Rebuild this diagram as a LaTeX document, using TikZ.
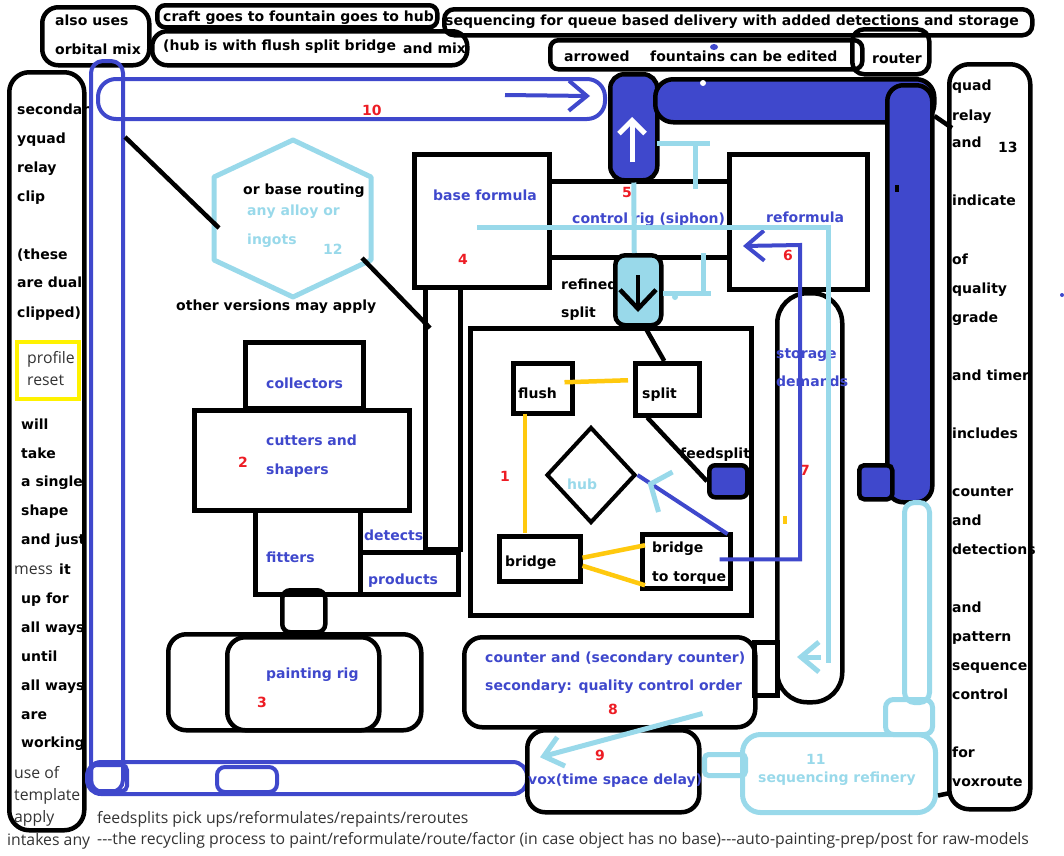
\documentclass[tikz,border=0pt]{standalone}
\usepackage{fontspec}
\usepackage{tikz}
\usetikzlibrary{arrows.meta,positioning,calc,shapes.geometric}
\newfontfamily\dvfont{DejaVu Sans}
\newfontfamily\osfont{Open Sans}
\definecolor{pblue}{RGB}{63,72,204}
\definecolor{plblue}{RGB}{153,217,234}
\definecolor{pred}{RGB}{237,28,36}
\definecolor{pgold}{RGB}{255,201,14}
\definecolor{pyellow}{RGB}{255,242,0}
\newcommand{\bfnt}{\dvfont\bfseries\fontsize{14}{16}\selectfont}
\newcommand{\rfnt}{\osfont\fontsize{15.8}{18}\selectfont}
\newcommand{\hy}{-\kern0pt}

\begin{document}
\begin{tikzpicture}[x=1pt,y=-1pt,
  pbox/.style={draw,line width=4.5pt,inner sep=0pt,anchor=north west},
  prbox/.style={pbox,rounded corners=12pt},
  pfill/.style={prbox,fill=pblue},
  ptube/.style={draw=pblue,line width=4pt,inner sep=0pt,anchor=north west},
  plbox/.style={draw=plblue,line width=5pt,inner sep=0pt,anchor=north west},
  ptxt/.style={anchor=base west,inner sep=0pt,font=\bfnt,yshift=-7.5pt},
  pbtxt/.style={ptxt,text=pblue},
  plbtxt/.style={ptxt,text=plblue},
  pnum/.style={ptxt,text=pred},
  prtxt/.style={ptxt,font=\rfnt,text=black!80},
  pkline/.style={draw,line width=4.5pt},
  pbline/.style={draw=pblue,line width=4pt},
  plbline/.style={draw=plblue,line width=5pt},
  pgline/.style={draw=pgold,line width=4.5pt},
  pbarb/.style={-{Straight Barb[length=18pt,width=30pt]}}]
  \useasboundingbox (0,0) rectangle (1064,855); % 画像全体の範囲

  % 上部のメモ枠
  \node[prbox,rounded corners=16pt,minimum width=107pt,minimum height=58pt] (alsobox) at (40,5) {}; % also uses 枠
  \node[prbox,rounded corners=8pt,minimum width=280pt,minimum height=22pt] (craftbox) at (155,3) {}; % craft 枠
  \node[prbox,rounded corners=15pt,minimum width=315pt,minimum height=34pt] (hubisbox) at (150,29) {}; % hub is 枠
  \node[prbox,rounded corners=10pt,minimum width=588pt,minimum height=26pt] (seqbox) at (442,7) {}; % sequencing 枠
  \node[prbox,rounded corners=8pt,minimum width=312pt,minimum height=29pt] (arrowbox) at (548,38) {}; % arrowed 枠
  \node[prbox,rounded corners=12pt,minimum width=77pt,minimum height=45pt] (routerbox) at (850,27) {}; % router 枠
  \node[ptxt] (also1) at (55,18) {also uses}; % 文字
  \node[ptxt] (also2) at (55,47) {orbital mix}; % 文字
  \node[ptxt] (craft) at (163,14) {craft goes to fountain goes to hub}; % 文字
  \node[ptxt] (hubis) at (163,43) {(hub is with flush split bridge}; % 文字
  \node[ptxt] (andmix) at (403,46) {and mix}; % 文字
  \node[ptxt] (seqtxt) at (445,18) {sequencing for queue based delivery with added detections and storage}; % 文字
  \node[ptxt] (arrowed) at (564,54) {arrowed}; % 文字
  \node[ptxt] (fountedit) at (650,54) {fountains can be edited}; % 文字
  \node[ptxt] (router) at (872,56) {router}; % 文字
  \fill[pblue] (714,47) ellipse (4pt and 3pt); % 青い点

  % 左右の縦長の枠
  \node[prbox,rounded corners=20pt,minimum width=75pt,minimum height=758pt] (leftcol) at (7,70) {}; % 左の列
  \node[prbox,rounded corners=20pt,minimum width=81pt,minimum height=745pt] (rightcol) at (947,62) {}; % 右の列
  \node[pbox,draw=pyellow,line width=4pt,minimum width=62pt,minimum height=57pt] (profbox) at (15,340) {}; % 黄色の枠
  \node[ptxt] (l1) at (17,107) {secondar}; % 左の文字
  \node[ptxt] (l2) at (17,136) {yquad};
  \node[ptxt] (l3) at (17,165) {relay};
  \node[ptxt] (l4) at (17,194) {clip};
  \node[ptxt] (l5) at (17,252) {(these};
  \node[ptxt] (l6) at (17,280) {are dual};
  \node[ptxt] (l7) at (17,310) {clipped)};
  \node[prtxt] (prof1) at (27,356) {profile};
  \node[prtxt] (prof2) at (27,378) {reset};
  \node[ptxt] (l8) at (21,422) {will};
  \node[ptxt] (l9) at (21,451) {take};
  \node[ptxt] (l10) at (21,479) {a single};
  \node[ptxt] (l11) at (21,508) {shape};
  \node[ptxt] (l12) at (21,537) {and just};
  \node[prtxt] (mess) at (14,567) {mess};
  \node[ptxt] (l13) at (59,567) {it};
  \node[ptxt] (l14) at (21,596) {up for};
  \node[ptxt] (l15) at (21,625) {all ways};
  \node[ptxt] (l16) at (21,654) {until};
  \node[ptxt] (l17) at (21,683) {all ways};
  \node[ptxt] (l18) at (21,712) {are};
  \node[ptxt] (l19) at (21,740) {working};
  \node[prtxt] (use1) at (14,771) {use of};
  \node[prtxt] (use2) at (14,793) {template};
  \node[prtxt] (use3) at (14,815) {apply};
  \node[prtxt] (intakes) at (7,838) {intakes any};
  \node[ptxt] (r1) at (952,83) {quad}; % 右の文字
  \node[ptxt] (r2) at (952,113) {relay};
  \node[ptxt] (r3) at (952,140) {and};
  \node[ptxt] (r13) at (998,145) {13};
  \node[ptxt] (r4) at (952,198) {indicate};
  \node[ptxt] (r5) at (952,257) {of};
  \node[ptxt] (r6) at (952,286) {quality};
  \node[ptxt] (r7) at (952,315) {grade};
  \node[ptxt] (r8) at (952,373) {and timer};
  \node[ptxt] (r9) at (952,431) {includes};
  \node[ptxt] (r10) at (952,489) {counter};
  \node[ptxt] (r11) at (952,518) {and};
  \node[ptxt] (r12) at (952,547) {detections};
  \node[ptxt] (r14) at (952,605) {and};
  \node[ptxt] (r15) at (952,634) {pattern};
  \node[ptxt] (r16) at (952,663) {sequence};
  \node[ptxt] (r17) at (952,692) {control};
  \node[ptxt] (r18) at (952,750) {for};
  \node[ptxt] (r19) at (952,779) {voxroute};
  \fill[pblue] (1062,295) circle (2pt); % 右端の青い点

  % 青いチューブ（輪郭のみ）
  \node[ptube,rounded corners=12pt,minimum width=32pt,minimum height=731pt] (ltube) at (89,59) {}; % 左の縦チューブ
  \node[ptube,rounded corners=18pt,minimum width=507pt,minimum height=40pt] (tube10) at (96,77) {}; % 10 のチューブ
  \node[ptube,rounded corners=14pt,minimum width=440pt,minimum height=32pt] (btube) at (85,760) {}; % 下のチューブ
  \node[ptube,rounded corners=5pt,minimum width=36pt,minimum height=26pt] (btube1) at (89,763) {}; % 下の小枠
  \node[ptube,rounded corners=8pt,minimum width=60pt,minimum height=25pt] (btube2) at (215,765) {}; % 下の小枠
  \node[pnum] (n10) at (362,108) {10};
  \coordinate (a10s) at (505,95);
  \coordinate (a10e) at (590,96);
  \draw[pbline,pbarb] (a10s) -- (a10e); % 10 の矢印

  % 青い塗りのチューブ
  \node[pfill,rounded corners=14pt,minimum width=47pt,minimum height=106pt] (fount5) at (608,72) {}; % 5 の噴水
  \node[pfill,rounded corners=18pt,minimum width=279pt,minimum height=43pt] (toptube) at (653,77) {}; % 上の横チューブ
  \node[pfill,rounded corners=16pt,minimum width=45pt,minimum height=417pt] (righttube) at (885,83) {}; % 右の縦チューブ
  \node[pfill,rounded corners=5pt,minimum width=33pt,minimum height=34pt] (smallsq) at (857,463) {}; % 小さい四角
  \fill[white] (703,83) circle (3pt); % 白い点
  \draw[line width=4pt] (897,185) -- (897,192); % 黒い印
  \coordinate (f5a) at (632,162);
  \coordinate (f5b) at (632,117);
  \draw[white,line width=5pt,-{Straight Barb[length=13pt,width=26pt]}] (f5a) -- (f5b); % 白い上向き矢印

  % 六角形（12）
  \coordinate (hexw) at (219,228);
  \coordinate (hexse) at (362,258);
  \coordinate (tubedot) at (125,137);
  \draw[plblue,line width=5pt,line join=round] (293,140) -- (371,177) -- (371,260) -- (293,297) -- (214,260) -- (214,177) -- cycle; % 六角形
  \node[ptxt] (orbase) at (243,187) {or base routing};
  \node[plbtxt] (alloy1) at (247,208) {any alloy or};
  \node[plbtxt] (alloy2) at (247,237) {ingots};
  \node[plbtxt] (n12) at (323,247) {12};
  \node[ptxt] (otherv) at (176,303) {other versions may apply};

  % 中央の箱
  \node[pbox,minimum width=135pt,minimum height=133pt] (basef) at (412,152) {}; % base formula
  \node[pbox,minimum width=35pt,minimum height=262pt] (narrow) at (423,285) {}; % 細い縦の箱
  \node[pbox,minimum width=180pt,minimum height=76pt] (ctrl) at (547,179) {}; % control rig
  \node[pbox,minimum width=138pt,minimum height=135pt] (reform) at (727,152) {}; % reformula
  \node[pfill,fill=plblue,rounded corners=10pt,minimum width=46pt,minimum height=70pt] (refined) at (613,253) {}; % refined split
  \node[pbtxt] (basetxt) at (433,193) {base formula};
  \node[pnum] (n4) at (458,257) {4};
  \node[pbtxt] (ctrltxt) at (572,216) {control rig (siphon)};
  \node[pnum] (n5) at (622,190) {5};
  \node[pbtxt] (reftxt) at (766,215) {reformula};
  \node[pnum] (n6) at (783,253) {6};
  \node[ptxt] (refd1) at (561,282) {refined};
  \node[ptxt] (refd2) at (561,310) {split};
  \coordinate (dwa) at (638,275);
  \coordinate (dwb) at (638,312);
  \draw[line width=4.5pt,-{Straight Barb[length=19pt,width=36pt]}] (dwa) -- (dwb); % 下向き矢印
  \draw[plbline] (fount5.south) -- ([xshift=-4pt]refined.north); % 噴水から refined へ
  \coordinate (t1a) at (657,143);
  \coordinate (t1b) at (710,143);
  \coordinate (t1c) at (695,143);
  \coordinate (t1d) at (695,189);
  \draw[plbline] (t1a) -- (t1b) (t1c) -- (t1d); % 上の T 字
  \coordinate (t2a) at (703,253);
  \coordinate (t2b) at (703,293);
  \coordinate (t2c) at (663,293);
  \coordinate (t2d) at (711,293);
  \draw[plbline] (t2a) -- (t2b) (t2c) -- (t2d); % 下の T 字
  \fill[plblue] (675,297) circle (3pt);

  % hub の区画
  \node[pbox,minimum width=281pt,minimum height=287pt] (hubarea) at (468,326) {}; % 外枠
  \node[pbox,minimum width=59pt,minimum height=50pt] (flush) at (511,361) {}; % flush
  \node[pbox,minimum width=64pt,minimum height=52pt] (split) at (633,361) {}; % split
  \node[draw,line width=4pt,diamond,inner sep=0pt,minimum width=89pt,minimum height=96pt] (hub) at (591,475) {}; % hub
  \node[pfill,rounded corners=6pt,minimum width=38pt,minimum height=32pt] (feedsq) at (707,463) {}; % feedsplit
  \node[pbox,minimum width=81pt,minimum height=45pt] (bridge) at (497,534) {}; % bridge
  \node[pbox,minimum width=88pt,minimum height=54pt] (torque) at (640,532) {}; % bridge to torque
  \node[ptxt] (flushtxt) at (518,391) {flush};
  \node[ptxt] (splittxt) at (642,391) {split};
  \node[plbtxt] (hubtxt) at (567,482) {hub};
  \node[ptxt] (feedtxt) at (680,451) {feedsplit};
  \node[ptxt] (bridgetxt) at (505,559) {bridge};
  \node[ptxt] (torq1) at (652,545) {bridge};
  \node[ptxt] (torq2) at (652,574) {to torque};
  \node[pnum] (n1) at (500,474) {1};
  \draw[pgline] ([xshift=-10pt,yshift=6pt]flush.east) -- ([xshift=-5pt,yshift=9pt]split.west); % flush -- split
  \draw[pgline] ($(flush.south west)+(14,-2)$) -- ($(bridge.north west)+(28,-1)$); % flush -- bridge
  \draw[pgline] ([yshift=1pt]bridge.east) -- ([xshift=5pt,yshift=16pt]torque.west); % bridge -- torque 上
  \draw[pgline] ([yshift=-7pt]bridge.east) -- ([xshift=5pt,yshift=-24pt]torque.west); % bridge -- torque 下
  \draw[pkline] ([xshift=7pt]refined.south) -- ([xshift=-3pt]split.north); % refined -- split
  \draw[pkline] ([xshift=-20pt]split.south) -- (feedsq.west); % split -- feedsplit
  \draw[pbline] ([xshift=-5pt,yshift=-2pt]torque.north east) -- (hub.east); % torque -- hub
  \draw[plbline] ($(hub.east)+(35,-3)$) -- ($(hub.east)+(13,9)$) -- ($(hub.east)+(21,37)$); % 水色の矢じり

  % storage と右下
  \node[prbox,rounded corners=30pt,minimum width=65pt,minimum height=409pt] (storage) at (775,291) {}; % storage demands
  \node[pbtxt] (stor1) at (776,351) {storage};
  \node[pbtxt] (stor2) at (776,379) {demands};
  \node[pnum] (n7) at (800,468) {7};
  \draw[pgold,line width=4pt] (785,516) -- (785,524); % 黄色の印
  \coordinate (r6bend) at (800,245);
  \coordinate (r6tip) at (743,246);
  \draw[pbline,pbarb] ([xshift=-13pt,yshift=2pt]torque.east) -| (r6bend) -- (r6tip); % torque から reformula へ
  \coordinate (lbstart) at (477,227);
  \coordinate (lbend) at (828,663);
  \draw[plbline] (lbstart) -| (lbend); % 水色の長い線
  \coordinate (sarrow) at (821,657);
  \coordinate (stip) at (797,657);
  \draw[plbline,pbarb] (sarrow) -- (stip); % storage 内の矢印

  \node[prbox,rounded corners=18pt,minimum width=291pt,minimum height=90pt] (counter) at (462,635) {}; % counter 枠
  \node[pbox,minimum width=23pt,minimum height=53pt] (ctrnub) at (752,640) {}; % 接続の箱
  \node[prbox,rounded corners=18pt,minimum width=172pt,minimum height=82pt] (vox) at (525,728) {}; % vox 枠
  \node[plbox,rounded corners=10pt,minimum width=25pt,minimum height=200pt] (lbtube) at (902,500) {}; % 水色の縦チューブ
  \node[plbox,rounded corners=8pt,minimum width=47pt,minimum height=35pt] (seqnub) at (883,697) {}; % 水色の小箱
  \node[plbox,rounded corners=18pt,minimum width=193pt,minimum height=78pt] (seqref) at (740,732) {}; % sequencing refinery
  \node[plbox,rounded corners=4pt,minimum width=41pt,minimum height=21pt] (voxnub) at (702,752) {}; % vox との接続
  \node[pbtxt] (ctr1) at (485,655) {counter and (secondary counter)};
  \node[pbtxt] (ctr2) at (485,683) {secondary: quality control order};
  \node[pnum] (n8) at (608,707) {8};
  \node[pbtxt] (voxtxt) at (528,777) {vox(time space delay)};
  \node[pnum] (n9) at (595,753) {9};
  \node[plbtxt] (n11) at (806,757) {11};
  \node[plbtxt] (seqreftxt) at (758,775) {sequencing refinery};
  \draw[plbline,pbarb] ([xshift=-55pt,yshift=16pt]counter.south east) -- ([xshift=15pt,yshift=14pt]vox.west); % counter から vox へ
  \coordinate (sqc) at (950,793);
  \draw[pkline] ([yshift=-22pt]seqref.east) -- (sqc); % seqref -- 右の列
  \draw[pkline] ([yshift=-33pt]righttube.north east) -- ([xshift=5pt,yshift=-66pt]rightcol.north west); % 右チューブ -- 右の列

  % 左側の加工の箱
  \node[pbox,minimum width=118pt,minimum height=66pt] (collect) at (243,340) {}; % collectors
  \node[pbox,minimum width=215pt,minimum height=100pt] (cutters) at (192,408) {}; % cutters and shapers
  \node[pbox,minimum width=105pt,minimum height=84pt] (fitters) at (253,508) {}; % fitters
  \node[pbox,minimum width=98pt,minimum height=42pt] (products) at (358,550) {}; % products
  \node[prbox,rounded corners=8pt,minimum width=43pt,minimum height=42pt] (paintnub) at (280,588) {}; % 接続の箱
  \node[prbox,rounded corners=18pt,minimum width=253pt,minimum height=96pt] (paintout) at (166,632) {}; % painting 外枠
  \node[prbox,rounded corners=18pt,minimum width=152pt,minimum height=93pt] (paintin) at (225,635) {}; % painting 内枠
  \node[pbtxt] (coltxt) at (266,381) {collectors};
  \node[pbtxt] (cut1) at (266,438) {cutters and};
  \node[pbtxt] (cut2) at (266,467) {shapers};
  \node[pnum] (n2) at (238,460) {2};
  \node[pbtxt] (fittxt) at (266,555) {fitters};
  \node[pbtxt] (dettxt) at (364,533) {detects};
  \node[pbtxt] (prodtxt) at (368,577) {products};
  \node[pbtxt] (painttxt) at (266,671) {painting rig};
  \node[pnum] (n3) at (257,700) {3};
  \draw[pkline] (tubedot) -- (hexw); % 左チューブ -- 六角形
  \draw[pkline] (hexse) -- ([xshift=7pt,yshift=-43pt]narrow.north west); % 六角形 -- 細い箱

  % 下の説明
  \node[prtxt] (foot1) at (97,816) {feedsplits pick ups/reformulates/repaints/reroutes};
  \node[prtxt] (foot2) at (97,837) {\hy\hy-the recycling process to paint/reformulate/route/factor (in case object has no base)\hy\hy-auto-painting-prep/post for raw-models};
\end{tikzpicture}
\end{document}
